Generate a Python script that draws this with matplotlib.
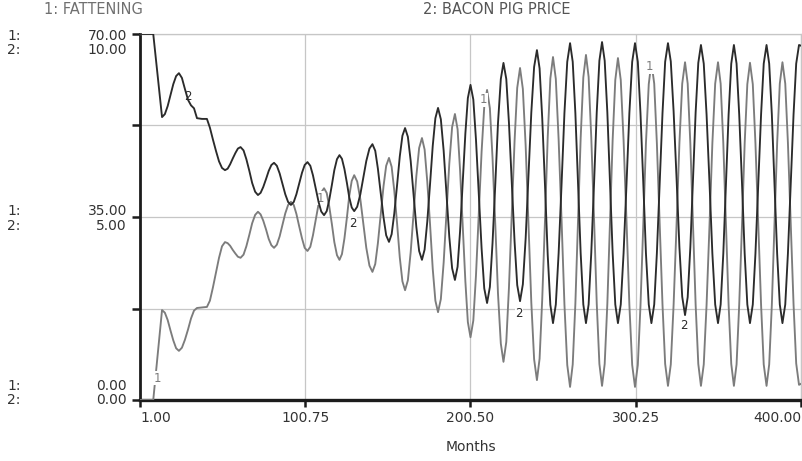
import matplotlib
matplotlib.use("Agg")
import matplotlib.pyplot as plt
from matplotlib.transforms import offset_copy

# Simulation output: pig fattening (scale 0-70) and bacon pig price (scale 0-10)
months = [
    1.0, 9.0,
    14.3, 16.0, 17.7, 19.4, 21.1, 22.8,
    24.5, 26.3, 28.1, 30.0, 31.8, 33.6,
    35.4, 38.4,
    41.4, 43.2, 45.0, 46.9, 48.7, 50.5,
    52.3, 53.9, 55.4, 57.0, 58.6, 60.1,
    61.7, 63.5, 65.2, 67.0, 68.7, 70.5,
    72.2, 73.8, 75.4, 77.1, 78.7, 80.3,
    81.9, 83.6, 85.3, 87.0, 88.7, 90.4,
    92.1, 93.8, 95.4, 97.1, 98.8, 100.4,
    102.1, 103.8, 105.4, 107.1, 108.8, 110.4,
    112.1, 113.7, 115.2, 116.8, 118.3, 119.9,
    121.4, 122.9, 124.4, 125.9, 127.3, 128.8,
    130.3, 132.1, 134.0, 135.8, 137.6, 139.5,
    141.3, 143.0, 144.6, 146.3, 148.0, 149.6,
    151.3, 152.9, 154.5, 156.2, 157.8, 159.4,
    161.0, 162.7, 164.4, 166.1, 167.8, 169.5,
    171.2, 172.8, 174.4, 176.1, 177.7, 179.3,
    180.9, 182.6, 184.3, 186.0, 187.7, 189.4,
    191.1, 192.7, 194.2, 195.8, 197.4, 198.9,
    200.5, 202.2, 203.8, 205.5, 207.2, 208.8,
    210.5, 212.2, 213.8, 215.5, 217.1, 218.8,
    220.4, 222.1, 223.7, 225.4, 227.1, 228.7,
    230.4, 232.1, 233.8, 235.5, 237.2, 238.9,
    240.6, 242.2, 243.8, 245.5, 247.1, 248.7,
    250.3, 252.0, 253.7, 255.5, 257.2, 258.9,
    260.6, 262.2, 263.8, 265.4, 267.0, 268.6,
    270.2, 271.8, 273.4, 275.1, 276.7, 278.3,
    279.9, 281.5, 283.1, 284.7, 286.3, 287.9,
    289.5, 291.2, 292.9, 294.7, 296.4, 298.1,
    299.8, 301.5, 303.1, 304.8, 306.4, 308.1,
    309.7, 311.4, 313.0, 314.7, 316.4, 318.0,
    319.7, 321.4, 323.1, 324.9, 326.6, 328.3,
    330.0, 331.6, 333.2, 334.8, 336.4, 338.0,
    339.6, 341.3, 343.0, 344.8, 346.5, 348.2,
    349.9, 351.5, 353.1, 354.7, 356.3, 357.9,
    359.5, 361.1, 362.7, 364.4, 366.0, 367.6,
    369.2, 370.9, 372.5, 374.2, 375.9, 377.5,
    379.2, 380.8, 382.4, 384.0, 385.6, 387.2,
    388.8, 390.5, 392.1, 393.8, 395.5, 397.1,
    398.8, 400.0,
]

fattening = [
    0.0, 0.0,
    17.2, 16.7, 15.3, 13.3, 11.4, 9.9,
    9.4, 10.0, 11.5, 13.5, 15.6, 17.1,
    17.6, 17.7,
    17.8, 19.0, 21.5, 24.4, 27.2, 29.4,
    30.2, 30.0, 29.5, 28.7, 28.0, 27.4,
    27.2, 27.8, 29.4, 31.6, 33.8, 35.4,
    36.0, 35.5, 34.3, 32.6, 30.8, 29.6,
    29.1, 29.7, 31.3, 33.5, 35.7, 37.3,
    37.9, 37.3, 35.6, 33.2, 30.9, 29.1,
    28.5, 29.3, 31.5, 34.5, 37.5, 39.7,
    40.5, 39.6, 37.1, 33.7, 30.2, 27.7,
    26.8, 27.9, 30.9, 34.9, 39.0, 41.9,
    43.0, 41.8, 38.4, 33.8, 29.1, 25.7,
    24.5, 26.0, 30.0, 35.4, 40.9, 44.8,
    46.3, 44.6, 40.0, 33.7, 27.3, 22.7,
    21.0, 22.9, 28.3, 35.6, 42.8, 48.2,
    50.1, 47.9, 41.8, 33.5, 25.1, 19.0,
    16.8, 19.3, 26.3, 35.8, 45.2, 52.2,
    54.7, 51.8, 44.0, 33.4, 22.7, 14.9,
    12.0, 15.2, 23.8, 35.7, 47.5, 56.1,
    59.3, 55.8, 46.3, 33.3, 20.3, 10.8,
    7.3, 11.1, 21.4, 35.4, 49.5, 59.7,
    63.5, 59.5, 48.6, 33.7, 18.7, 7.8,
    3.8, 7.9, 19.3, 34.7, 50.2, 61.5,
    65.6, 61.4, 49.8, 34.1, 18.3, 6.7,
    2.5, 6.8, 18.4, 34.3, 50.1, 61.7,
    66.0, 61.8, 50.2, 34.4, 18.5, 6.9,
    2.7, 6.9, 18.4, 34.1, 49.7, 61.2,
    65.4, 61.2, 49.7, 34.0, 18.2, 6.7,
    2.5, 6.7, 18.0, 33.6, 49.1, 60.4,
    64.6, 60.5, 49.1, 33.7, 18.2, 6.9,
    2.7, 6.8, 18.2, 33.7, 49.1, 60.5,
    64.6, 60.5, 49.1, 33.7, 18.2, 6.9,
    2.7, 6.8, 18.2, 33.7, 49.1, 60.5,
    64.6, 60.5, 49.1, 33.7, 18.2, 6.9,
    2.7, 6.8, 18.2, 33.6, 49.1, 60.4,
    64.5, 60.4, 49.1, 33.6, 18.2, 6.8,
    2.7, 6.8, 18.2, 33.7, 49.1, 60.5,
    64.6, 60.5, 49.2, 33.8, 18.3, 7.0,
    2.9, 3.1,
]

bacon_pig_price = [
    10.00, 10.00,
    7.73, 7.81, 8.03, 8.33, 8.63, 8.85,
    8.93, 8.80, 8.50, 8.20, 8.05, 7.97,
    7.70, 7.68,
    7.68, 7.44, 7.12, 6.80, 6.52, 6.34,
    6.28, 6.32, 6.44, 6.60, 6.75, 6.87,
    6.91, 6.82, 6.58, 6.26, 5.93, 5.69,
    5.60, 5.66, 5.82, 6.04, 6.26, 6.42,
    6.48, 6.40, 6.19, 5.91, 5.62, 5.41,
    5.33, 5.41, 5.62, 5.92, 6.21, 6.42,
    6.50, 6.40, 6.14, 5.78, 5.41, 5.15,
    5.05, 5.16, 5.46, 5.87, 6.28, 6.58,
    6.69, 6.59, 6.31, 5.93, 5.54, 5.26,
    5.16, 5.28, 5.62, 6.08, 6.53, 6.87,
    6.99, 6.81, 6.32, 5.66, 4.99, 4.50,
    4.32, 4.53, 5.10, 5.88, 6.65, 7.22,
    7.43, 7.19, 6.53, 5.63, 4.73, 4.07,
    3.83, 4.11, 4.87, 5.91, 6.94, 7.70,
    7.98, 7.67, 6.81, 5.63, 4.46, 3.60,
    3.28, 3.64, 4.61, 5.95, 7.28, 8.25,
    8.61, 8.21, 7.12, 5.63, 4.14, 3.05,
    2.65, 3.09, 4.29, 5.93, 7.57, 8.77,
    9.21, 8.77, 7.58, 5.96, 4.33, 3.14,
    2.70, 3.16, 4.42, 6.13, 7.85, 9.10,
    9.56, 9.06, 7.70, 5.83, 3.97, 2.60,
    2.10, 2.61, 4.01, 5.93, 7.84, 9.24,
    9.75, 9.24, 7.84, 5.93, 4.01, 2.61,
    2.10, 2.61, 4.02, 5.94, 7.86, 9.27,
    9.78, 9.27, 7.86, 5.94, 4.02, 2.61,
    2.10, 2.61, 4.01, 5.93, 7.84, 9.24,
    9.75, 9.24, 7.84, 5.93, 4.01, 2.61,
    2.10, 2.61, 4.01, 5.93, 7.84, 9.24,
    9.75, 9.25, 7.89, 6.04, 4.18, 2.82,
    2.32, 2.81, 4.17, 6.01, 7.86, 9.21,
    9.70, 9.19, 7.80, 5.90, 4.00, 2.61,
    2.10, 2.61, 4.00, 5.90, 7.80, 9.19,
    9.70, 9.19, 7.80, 5.90, 4.00, 2.61,
    2.10, 2.61, 4.00, 5.90, 7.80, 9.19,
    9.70, 9.19, 7.80, 5.90, 4.00, 2.61,
    2.10, 2.61, 4.00, 5.90, 7.80, 9.19,
    9.70, 9.68,
]

fattening_ticks = [0, 35, 70]
price_ticks = [0, 5, 10]
month_ticks = [1.00, 100.75, 200.50, 300.25, 400.00]

# curve identifiers placed along the lines: (series, month, position on 0-70 scale)
curve_tags = [
    ("2", 30.0, 58.0), ("1", 11.3, 4.2), ("1", 109.7, 38.6), ("2", 129.6, 33.7),
    ("1", 208.6, 57.4), ("2", 229.8, 16.6), ("1", 308.8, 63.7), ("2", 329.4, 14.3),
]

C_FAT = "#7c7c7c"
C_PRICE = "#2b2b2b"
C_TEXT = "#333333"
C_AXIS = "#1c1c1c"
C_GRID = "#c6c6c6"

W, H = 803, 461
fig = plt.figure(figsize=(W / 100, H / 100), dpi=100)
fig.patch.set_facecolor("white")
ax = fig.add_axes([140 / W, (H - 400) / H, 661 / W, 366 / H])
ax2 = ax.twinx()

ax.set_xlim(month_ticks[0], month_ticks[-1])
ax.set_ylim(fattening_ticks[0], fattening_ticks[-1])
ax2.set_ylim(price_ticks[0], price_ticks[-1])

ax.plot(months, fattening, color=C_FAT, lw=1.35, solid_joinstyle="round", zorder=3)
ax2.plot(months, bacon_pig_price, color=C_PRICE, lw=1.35, solid_joinstyle="round", zorder=3)

# frame and grid
ax.set_yticks([0, 17.5, 35, 52.5, 70])
ax.set_yticklabels([])
ax.set_xticks(month_ticks)
ax.set_xticklabels([f"{m:.2f}" for m in month_ticks])
ax.grid(True, color=C_GRID, lw=0.9)
ax.set_axisbelow(True)
for side in ("top", "right"):
    ax.spines[side].set_color(C_GRID)
    ax.spines[side].set_linewidth(0.9)
ax.spines["left"].set_color(C_AXIS)
ax.spines["left"].set_linewidth(2.0)
ax.spines["bottom"].set_color(C_AXIS)
ax.spines["bottom"].set_linewidth(2.4)
ax.tick_params(axis="y", direction="out", length=6, width=1.8, color=C_AXIS)
ax.tick_params(axis="x", direction="out", length=5, width=1.8, color=C_AXIS,
               labelsize=10, labelcolor=C_TEXT, pad=3)
xlabels = ax.get_xticklabels()
xlabels[0].set_horizontalalignment("left")
xlabels[-1].set_horizontalalignment("right")

for s in ax2.spines.values():
    s.set_visible(False)
ax2.set_yticks([])
ax2.tick_params(axis="both", length=0)

# stacked scale labels for both series on the left
ytrans = ax.get_yaxis_transform()
rows = [(-1.5, -16.0), (6.0, -9.5), (14.0, 0.0)]
for f_val, p_val, (dy1, dy2) in zip(fattening_ticks[::-1], price_ticks[::-1], rows):
    t1 = offset_copy(ytrans, fig=fig, x=0, y=dy1, units="dots")
    t2 = offset_copy(ytrans, fig=fig, x=0, y=dy2, units="dots")
    ax.text(-13 / 661, f_val, f"{f_val:.2f}", transform=t1, ha="right", va="center",
            fontsize=10, color=C_TEXT, clip_on=False)
    ax.text(-13 / 661, f_val, f"{p_val:.2f}", transform=t2, ha="right", va="center",
            fontsize=10, color=C_TEXT, clip_on=False)
    ax.text(-133 / 661, f_val, "1:", transform=t1, ha="left", va="center",
            fontsize=10, color=C_TEXT, clip_on=False)
    ax.text(-133 / 661, f_val, "2:", transform=t2, ha="left", va="center",
            fontsize=10, color=C_TEXT, clip_on=False)

for tag, m, v in curve_tags:
    ax.text(m, v, tag, ha="center", va="center", fontsize=8.5,
            color=C_FAT if tag == "1" else C_PRICE, zorder=5,
            bbox=dict(fc="white", ec="none", pad=0.4))

fig.text(44 / W, 1 - 10 / H, "1: FATTENING", ha="left", va="center",
         fontsize=10.5, color="#707070")
fig.text(423 / W, 1 - 10 / H, "2: BACON PIG PRICE", ha="left", va="center",
         fontsize=10.5, color="#555555")
fig.text(470.5 / W, 1 - 447 / H, "Months", ha="center", va="center",
         fontsize=10, color=C_TEXT)

fig.savefig("out.png", dpi=100)
